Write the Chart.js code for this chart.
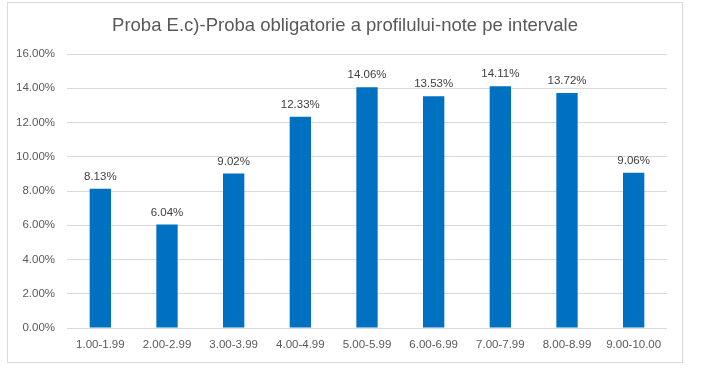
<!DOCTYPE html>
<html>
<head>
<meta charset="utf-8">
<script src="https://cdn.jsdelivr.net/npm/chart.js@4/dist/chart.umd.min.js"></script>
<style>
  html, body { margin: 0; padding: 0; background: #fff; }
  #wrap { position: absolute; left: 7px; top: 2px; width: 676px; height: 361px; }
</style>
</head>
<body>
<div id="wrap"><canvas id="chart"></canvas></div>
<script>
const categories = ["1.00-1.99", "2.00-2.99", "3.00-3.99", "4.00-4.99", "5.00-5.99",
                    "6.00-6.99", "7.00-7.99", "8.00-8.99", "9.00-10.00"];
const percents   = [8.13, 6.04, 9.02, 12.33, 14.06, 13.53, 14.11, 13.72, 9.06];
const titleText  = "Proba E.c)-Proba obligatorie a profilului-note pe intervale";

const FONT = "'Liberation Sans', Arial, sans-serif";

// chenar gri si titlul, centrat pe tot chenarul
const frame = {
  id: "frame",
  beforeDraw(chart) {
    const c = chart.ctx;
    c.save();
    c.strokeStyle = "#d9d9d9";
    c.lineWidth = 1;
    c.strokeRect(0.5, 0.5, chart.width - 1, chart.height - 1);
    c.font = `18.5px ${FONT}`;
    c.fillStyle = "#595959";
    c.textAlign = "center";
    c.textBaseline = "middle";
    c.fillText(titleText, chart.width / 2, 24);
    c.restore();
  },
};

// etichete de valoare deasupra barelor
const valueLabels = {
  id: "valueLabels",
  afterDatasetsDraw(chart) {
    const c = chart.ctx;
    const meta = chart.getDatasetMeta(0);
    c.save();
    c.font = `11.5px ${FONT}`;
    c.fillStyle = "#404040";
    c.textAlign = "center";
    c.textBaseline = "alphabetic";
    meta.data.forEach((bar, i) => {
      c.fillText(percents[i].toFixed(2) + "%", bar.x, bar.y - 9);
    });
    c.restore();
  },
};

new Chart(document.getElementById("chart"), {
  type: "bar",
  data: {
    labels: categories,
    datasets: [{
      data: percents,
      backgroundColor: "#0070C0",
      categoryPercentage: 1,
      barPercentage: 0.32,
    }],
  },
  options: {
    responsive: true,
    maintainAspectRatio: false,
    animation: false,
    layout: { padding: { left: 0, right: 16, top: 52, bottom: 0 } },
    plugins: {
      legend: { display: false },
      tooltip: { enabled: false },
      title: { display: false },
    },
    scales: {
      x: {
        grid: { display: false },
        border: { display: false },
        ticks: { color: "#595959", font: { family: FONT, size: 11.5 }, padding: 2, maxRotation: 0 },
        afterFit: s => { s.height = 35; },
      },
      y: {
        min: 0,
        max: 16,
        grid: { color: "#d9d9d9", drawTicks: false },
        border: { display: false },
        ticks: {
          stepSize: 2,
          color: "#595959",
          font: { family: FONT, size: 11.5 },
          padding: 12,
          callback: v => v.toFixed(2) + "%",
        },
        afterFit: s => { s.width = 60; },
      },
    },
  },
  plugins: [frame, valueLabels],
});
</script>
</body>
</html>
